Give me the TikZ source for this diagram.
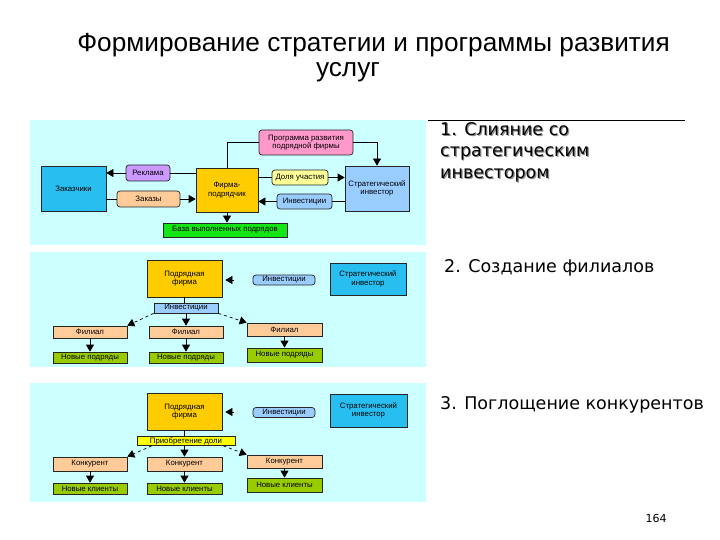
\documentclass[tikz,border=0pt]{standalone}
\usepackage{fontspec}
\setmainfont{Liberation Sans}
\newfontfamily\dejavu{DejaVu Sans}
\usetikzlibrary{arrows.meta}
\definecolor{panel}{RGB}{204,255,255}
\definecolor{cblue}{RGB}{40,190,240}
\definecolor{lblue}{RGB}{153,204,255}
\definecolor{lilac}{RGB}{204,153,255}
\definecolor{peach}{RGB}{255,204,153}
\definecolor{gold}{RGB}{255,204,0}
\definecolor{pink}{RGB}{255,153,204}
\definecolor{lyellow}{RGB}{255,255,153}
\definecolor{yel}{RGB}{255,255,0}
\definecolor{bgreen}{RGB}{20,230,20}
\definecolor{olive}{RGB}{153,204,0}
\begin{document}
\begin{tikzpicture}[x=1pt,y=-1pt,
  box/.style={draw=black!85, line width=0.7pt, inner sep=0pt, align=center,
    font=\fontsize{7.8}{8.6}\selectfont},
  rbox/.style={box, rounded corners=3pt},
  ln/.style={draw=black, line width=0.7pt},
  arr/.style={ln, -{Triangle[length=7pt,width=8pt]}},
  side/.style={font=\dejavu\fontsize{17.5}{21.5}\selectfont, align=left, inner sep=0pt}]
\useasboundingbox (0,0) rectangle (720,540);
% title
\node[font=\fontsize{26.2}{30}\selectfont, inner sep=0pt] (title1) at (373.5,45) {Формирование стратегии и программы развития};
\node[font=\fontsize{26.2}{30}\selectfont, inner sep=0pt] (title2) at (348,72) {услуг};
% panels
\fill[panel] (30,120) rectangle (426,245);
\fill[panel] (30,252) rectangle (426,367);
\fill[panel] (30,383) rectangle (426,502);
\draw[line width=0.8pt] (428,120) -- (685,120);
% ---------- panel 1
\node[box, fill=cblue, minimum width=65pt, minimum height=45pt] (zak) at (73.5,188.5) {Заказчики};
\node[rbox, fill=lilac, minimum width=44pt, minimum height=16pt] (rek) at (148,173) {Реклама};
\node[rbox, fill=peach, minimum width=63pt, minimum height=16pt] (zakazy) at (148.5,199) {Заказы};
\node[box, fill=gold, minimum width=62pt, minimum height=44pt] (firma) at (227,190) {Фирма-\\подрядчик};
\node[rbox, fill=pink, minimum width=94pt, minimum height=25pt] (prog) at (306,142.5) {Программа развития\\подрядной фирмы};
\node[box, fill=lblue, minimum width=64pt, minimum height=45pt] (strat1) at (377,188.5) {Стратегический\\инвестор};
\node[rbox, fill=lyellow, minimum width=56pt, minimum height=15pt] (dolya) at (300,177.5) {Доля участия};
\node[rbox, fill=lblue, minimum width=55pt, minimum height=15pt] (inv1) at (304.5,201.5) {Инвестиции};
\node[box, fill=bgreen, minimum width=124pt, minimum height=14pt] (baza) at (225,230) {База выполненных подрядов};
\draw[arr] (rek.west) -- (zak.east |- rek.west);
\draw[ln] (firma.west |- rek.east) -- (rek.east);
\draw[ln] (zak.east |- zakazy.west) -- (zakazy.west);
\draw[arr] (zakazy.east) -- (firma.west |- zakazy.east);
\draw[ln] (firma.east |- dolya.west) -- (dolya.west);
\draw[arr] (dolya.east) -- (strat1.west |- dolya.east);
\draw[ln] (strat1.west |- inv1.east) -- (inv1.east);
\draw[arr] (inv1.west) -- (firma.east |- inv1.west);
\draw[ln] (firma.north) |- (prog.west);
\draw[arr] (prog.east) -| (strat1.north);
\draw[arr] (firma.south) -- (firma.south |- baza.north);
% ---------- panel 2
\node[box, fill=gold, minimum width=75pt, minimum height=37pt] (pf2) at (184.5,278.5) {Подрядная\\фирма};
\node[rbox, fill=lblue, minimum width=62pt, minimum height=10pt] (inv2) at (284,280) {Инвестиции};
\node[box, fill=cblue, minimum width=76pt, minimum height=32pt] (strat2) at (368,279) {Стратегический\\инвестор};
\node[box, fill=lblue, minimum width=64pt, minimum height=10pt] (invb2) at (186,308) {Инвестиции};
\node[box, fill=peach, minimum width=74pt, minimum height=12pt] (fil1) at (90,332) {Филиал};
\node[box, fill=peach, minimum width=74pt, minimum height=12pt] (fil2) at (186,332) {Филиал};
\node[box, fill=peach, minimum width=75pt, minimum height=13pt] (fil3) at (284.5,329.5) {Филиал};
\node[box, fill=olive, minimum width=74pt, minimum height=11pt] (np1) at (90,357.5) {Новые подряды};
\node[box, fill=olive, minimum width=74pt, minimum height=11pt] (np2) at (186,357.5) {Новые подряды};
\node[box, fill=olive, minimum width=75pt, minimum height=14pt] (np3) at (284.5,355) {Новые подряды};
\coordinate (st2) at (234,280);
\draw[arr] (st2) -- ([xshift=3pt]pf2.east |- st2);
\draw[ln] (pf2.south) -- (pf2.south |- invb2.north);
\draw[arr] (invb2.south) -- (invb2.south |- fil2.north);
\draw[arr, dashed] (invb2.south west) -- (fil1.north east);
\draw[arr, dashed] (invb2.south east) -- (fil3.north west);
\draw[arr] (fil1.south) -- (np1.north);
\draw[arr] (fil2.south) -- (np2.north);
\draw[arr] (fil3.south) -- (np3.north);
% ---------- panel 3
\node[box, fill=gold, minimum width=75pt, minimum height=37pt] (pf3) at (184.5,411.5) {Подрядная\\фирма};
\node[rbox, fill=lblue, minimum width=62pt, minimum height=10pt] (inv3) at (284,412.5) {Инвестиции};
\node[box, fill=cblue, minimum width=77pt, minimum height=33pt] (strat3) at (368.5,410.5) {Стратегический\\инвестор};
\node[box, fill=yel, minimum width=98pt, minimum height=9pt] (pd) at (186,441) {Приобретение доли};
\node[box, fill=peach, minimum width=74pt, minimum height=14pt] (kon1) at (90,464) {Конкурент};
\node[box, fill=peach, minimum width=75pt, minimum height=14pt] (kon2) at (184.5,464) {Конкурент};
\node[box, fill=peach, minimum width=75pt, minimum height=13pt] (kon3) at (284.5,461.5) {Конкурент};
\node[box, fill=olive, minimum width=74pt, minimum height=11pt] (nk1) at (90,488.5) {Новые клиенты};
\node[box, fill=olive, minimum width=75pt, minimum height=11pt] (nk2) at (184.5,488.5) {Новые клиенты};
\node[box, fill=olive, minimum width=75pt, minimum height=14pt] (nk3) at (284.5,485) {Новые клиенты};
\coordinate (st3) at (234,412);
\draw[arr] (st3) -- ([xshift=3pt]pf3.east |- st3);
\draw[ln] (pf3.south) -- (pf3.south |- pd.north);
\draw[arr] (pf3.south |- pd.south) -- (pf3.south |- kon2.north);
\draw[arr, dashed] ([xshift=15pt]pd.south west) -- (kon1.north east);
\draw[arr, dashed] ([xshift=-12pt]pd.south east) -- (kon3.north west);
\draw[arr] (kon1.south) -- (nk1.north);
\draw[arr] (kon2.south) -- (nk2.north);
\draw[arr] (kon3.south) -- (nk3.north);
% ---------- side texts
\node[side, anchor=north west, text=black!45] (t1s) at (441.2,123.2) {1. Слияние со\\стратегическим\\инвестором};
\node[side, anchor=north west] (t1) at (440,122) {1. Слияние со\\стратегическим\\инвестором};
\node[side, anchor=west] (t2) at (444,268) {2. Создание филиалов};
\node[side, anchor=west] (t3) at (440,405) {3. Поглощение конкурентов};
\node[font=\dejavu\fontsize{11}{13}\selectfont, inner sep=0pt] (pg) at (656,518) {164};
\end{tikzpicture}
\end{document}
